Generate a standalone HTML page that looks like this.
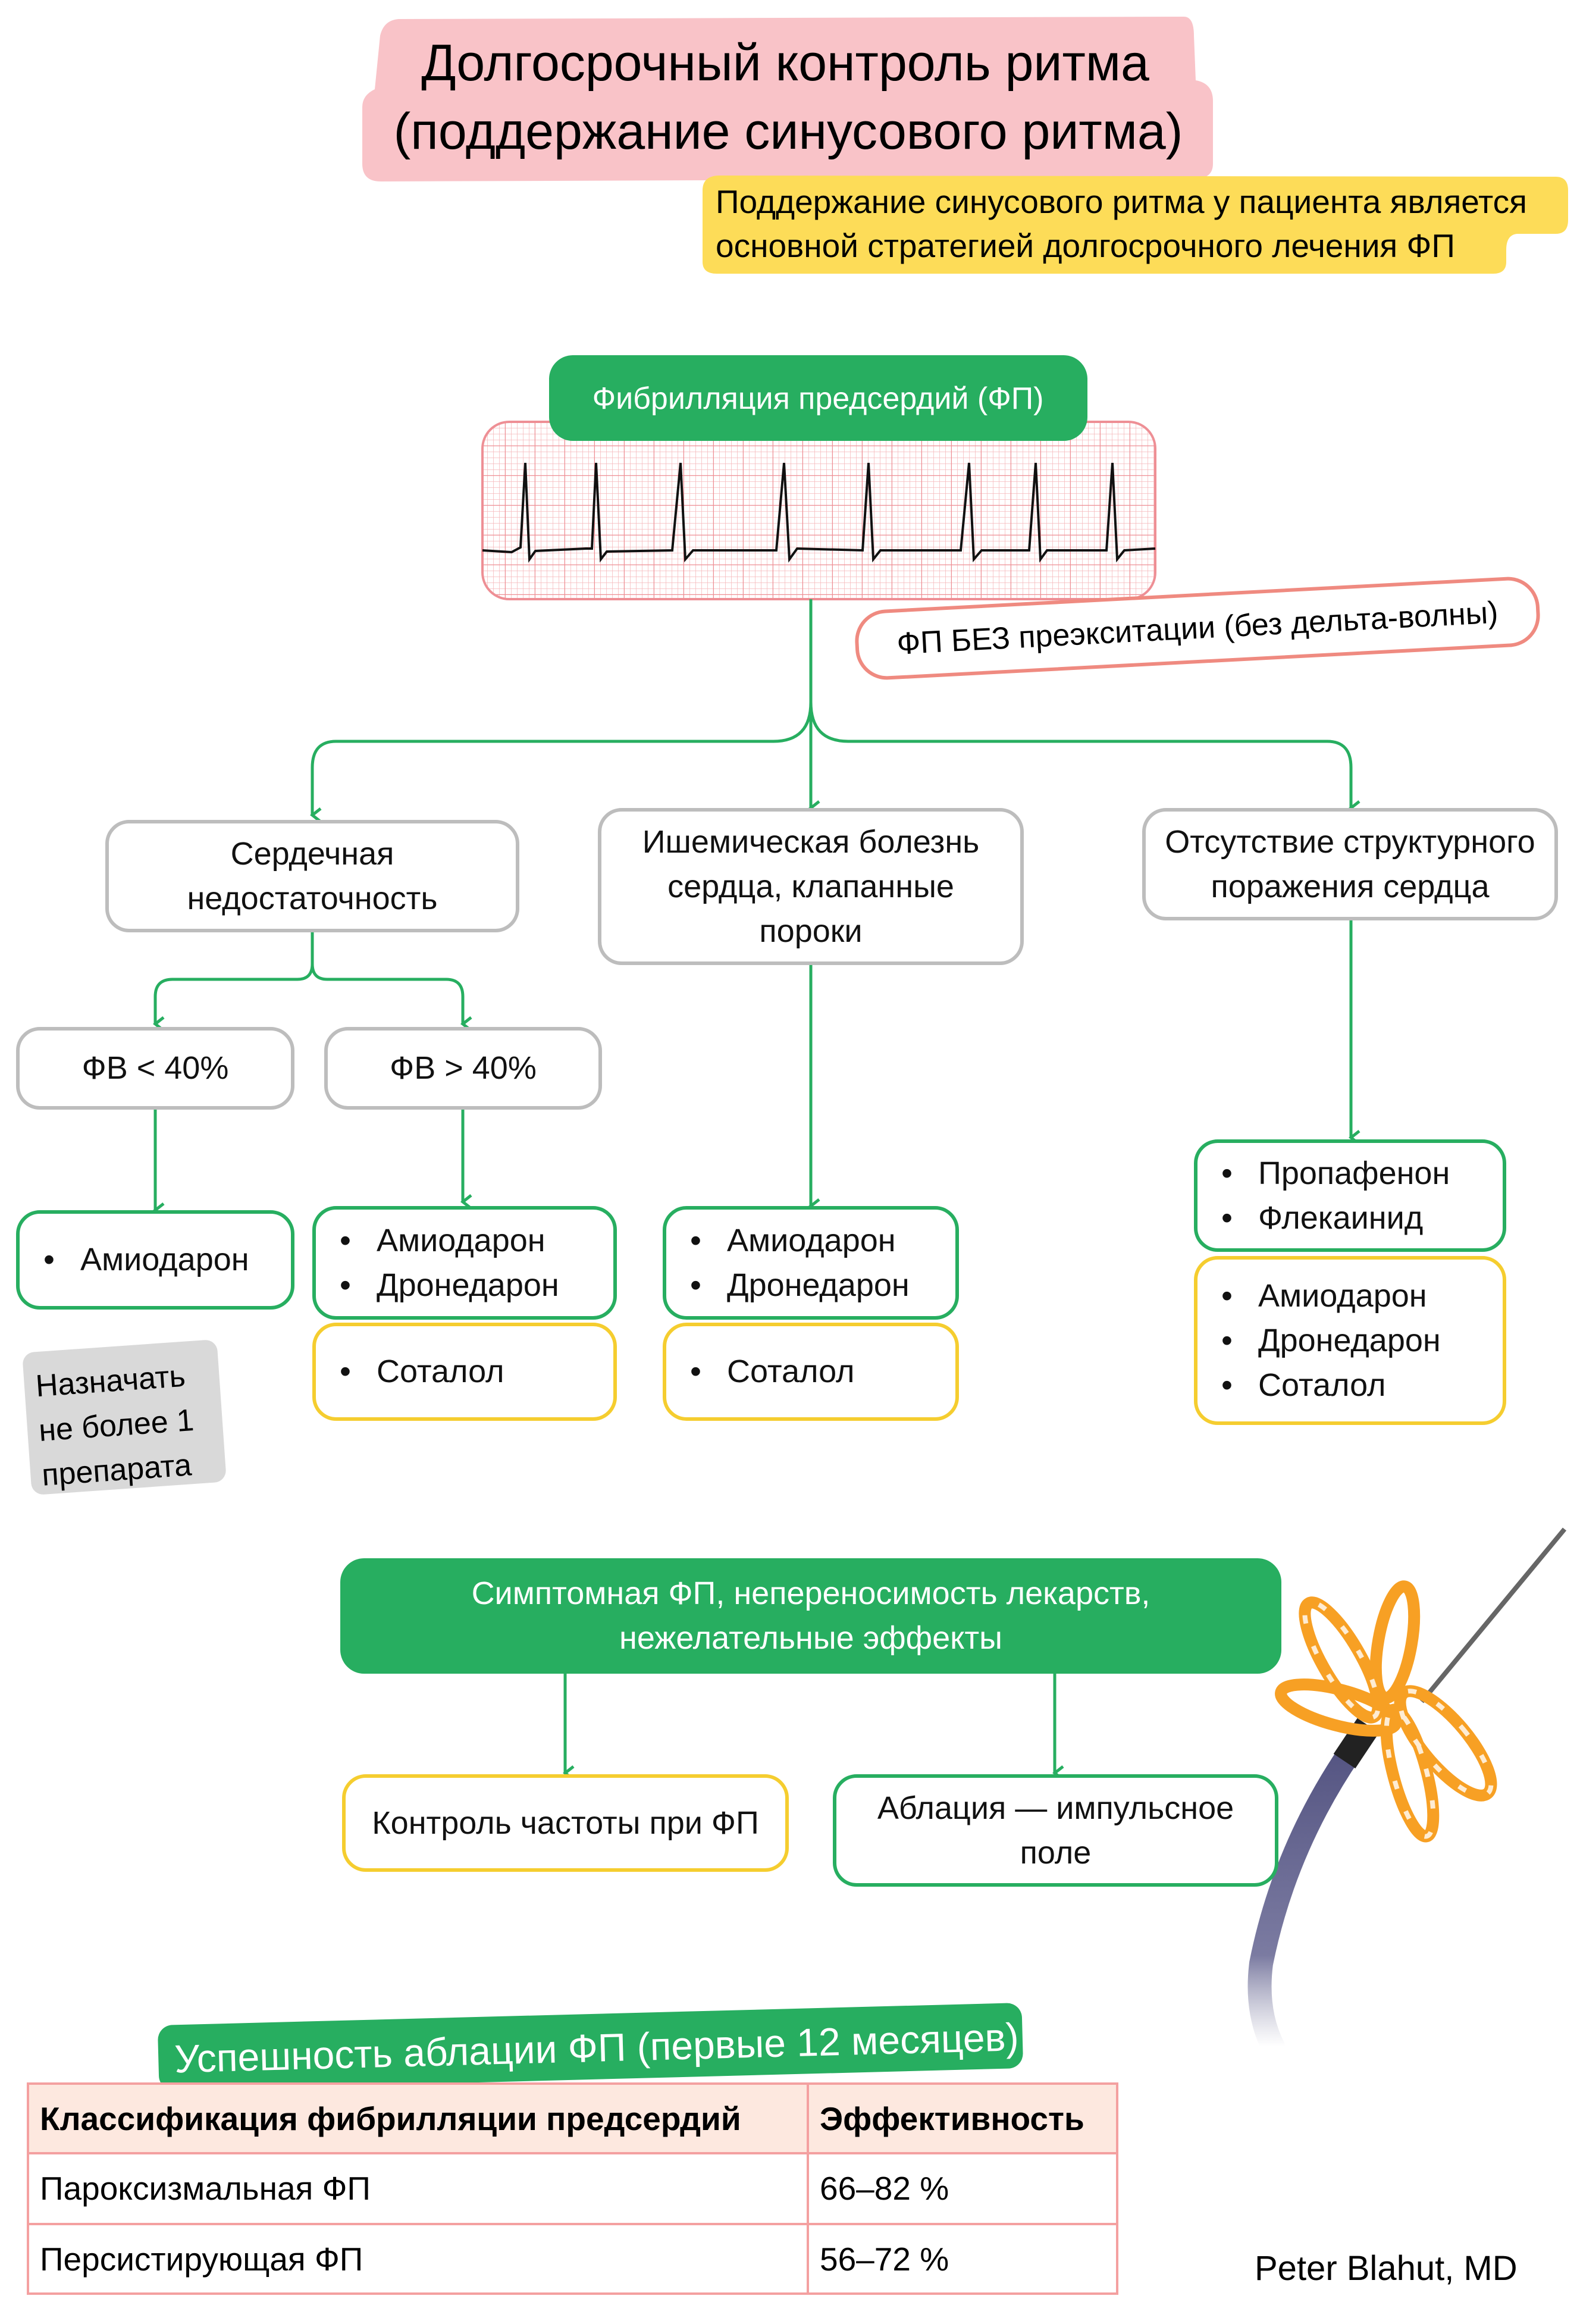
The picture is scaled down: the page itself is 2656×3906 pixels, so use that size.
<!DOCTYPE html>
<html><head><meta charset="utf-8"><style>
*{margin:0;padding:0;box-sizing:border-box}
body{width:2656px;height:3906px;background:#fff;position:relative;overflow:hidden;font-family:"Liberation Sans","DejaVu Sans",sans-serif;color:#111}
.b{position:absolute;display:flex;align-items:center;justify-content:center;text-align:center;border-radius:40px;background:#fff;font-size:54px;line-height:75px}
.gray{border:6px solid #bdbdbd}
.grn{border:6px solid #27ae60}
.yel{border:6px solid #f5cd2f}
.l{justify-content:flex-start;text-align:left;padding-left:40px}
ul{list-style:none}
li:before{content:"•";display:inline-block;width:62px;font-size:54px}
svg{position:absolute;left:0;top:0}
</style></head><body>
<svg width="2656" height="3906">
<defs>
<pattern id="sg" width="10" height="10" patternUnits="userSpaceOnUse"><path d="M10 0V10H0" fill="none" stroke="#f5b8bb" stroke-width="1.5"/></pattern>
<pattern id="lg" width="50" height="50" patternUnits="userSpaceOnUse"><path d="M50 0V50H0" fill="none" stroke="#ee8f95" stroke-width="2.5"/></pattern>
<clipPath id="ec"><rect x="811" y="709" width="1131" height="298" rx="45"/></clipPath>
<marker id="ar" markerWidth="26" markerHeight="26" refX="13" refY="22" orient="auto" markerUnits="userSpaceOnUse" viewBox="0 0 26 26"><path d="M2 8 L13 22 L24 8" fill="none" stroke="#27ae60" stroke-width="5"/></marker>
<linearGradient id="fade" x1="0" y1="0" x2="0" y2="1"><stop offset="0" stop-color="#4a4a7a" stop-opacity="0.95"/><stop offset="0.7" stop-color="#5a5a8a" stop-opacity="0.8"/><stop offset="1" stop-color="#8a8aa8" stop-opacity="0"/></linearGradient>
</defs>
<path d="M670 32 L1990 28 Q2007 28 2007 60 L2010 135 Q2039 140 2039 170 L2039 275 Q2039 300 2010 300 L640 305 Q609 305 609 275 L609 180 Q609 160 630 150 L639 60 Q645 34 670 32Z" fill="#f9c3c8"/>
<text x="1320" y="135" font-size="86" text-anchor="middle">Долгосрочный контроль ритма</text>
<text x="1325" y="250" font-size="86" text-anchor="middle">(поддержание синусового ритма)</text>
<path d="M1210 295 L2615 297 Q2636 297 2636 320 L2636 370 Q2636 393 2615 393 L2550 393 Q2532 395 2532 420 L2532 440 Q2532 460 2510 460 L1205 460 Q1181 460 1181 440 L1181 320 Q1181 295 1210 295Z" fill="#fddc58"/>
<text x="1203" y="358" font-size="55">Поддержание синусового ритма у пациента является</text>
<text x="1203" y="432" font-size="55">основной стратегией долгосрочного лечения ФП</text>
<rect x="811" y="709" width="1131" height="298" rx="45" fill="#fff"/>
<g clip-path="url(#ec)"><rect x="811" y="709" width="1131" height="298" fill="url(#sg)"/><rect x="811" y="709" width="1131" height="298" fill="url(#lg)"/></g>
<rect x="811" y="709" width="1131" height="298" rx="45" fill="none" stroke="#ee8f95" stroke-width="4"/>
<path d="M811 925 L860 928 L875 920 L883 778 L890 940 L900 926 L985 922 L995 922 L1002 778 L1010 940 L1020 927 L1130 925 L1144 778 L1152 940 L1165 925 L1305 925 L1318 778 L1327 940 L1340 922 L1450 925 L1460 778 L1468 940 L1480 925 L1615 925 L1629 778 L1637 940 L1650 925 L1730 925 L1741 778 L1749 940 L1760 925 L1860 925 L1870 778 L1878 940 L1890 925 L1942 922" fill="none" stroke="#111" stroke-width="4"/>
<rect x="923" y="597" width="905" height="144" rx="40" fill="#27ae60"/>
<text x="1375" y="687" font-size="52" fill="#fff" text-anchor="middle">Фибрилляция предсердий (ФП)</text>
<g transform="rotate(-3 2013 1056)"><rect x="1440" y="1000" width="1146" height="112" rx="50" fill="#fff" stroke="#ef8a80" stroke-width="6"/>
<text x="2013" y="1073" font-size="52" text-anchor="middle">ФП БЕЗ преэкситации (без дельта-волны)</text></g>
<g fill="none" stroke="#27ae60" stroke-width="5">
<path d="M1363 1007 V1358" marker-end="url(#ar)"/>
<path d="M1363 1180 Q1363 1246 1300 1246 H565 Q525 1246 525 1290 V1370" marker-end="url(#ar)"/>
<path d="M1363 1180 Q1363 1246 1426 1246 H2231 Q2271 1246 2271 1290 V1358" marker-end="url(#ar)"/>
<path d="M525 1567 V1620 Q525 1646 500 1646 H290 Q261 1646 261 1675 V1721" marker-end="url(#ar)"/>
<path d="M525 1620 Q525 1646 550 1646 H750 Q778 1646 778 1675 V1721" marker-end="url(#ar)"/>
<path d="M261 1865 V2034" marker-end="url(#ar)"/>
<path d="M778 1865 V2020" marker-end="url(#ar)"/>
<path d="M1363 1622 V2027" marker-end="url(#ar)"/>
<path d="M2271 1547 V1912" marker-end="url(#ar)"/>
<path d="M950 2813 V2980" marker-end="url(#ar)"/>
<path d="M1773 2813 V2980" marker-end="url(#ar)"/>
</g>
<path d="M2630 2570 L2390 2860" stroke="#666" stroke-width="8"/>
<path d="M2280 2930 Q2160 3100 2120 3300 Q2110 3380 2140 3440" fill="none" stroke="url(#fade)" stroke-width="40" stroke-linecap="round"/>
<path d="M2300 2900 L2260 2960" stroke="#222" stroke-width="44"/>
<g fill="none" stroke="#f7a024" stroke-width="20">
<ellipse cx="2255" cy="2790" rx="32" ry="110" transform="rotate(-30 2255 2790)"/>
<ellipse cx="2345" cy="2760" rx="28" ry="95" transform="rotate(10 2345 2760)"/>
<ellipse cx="2250" cy="2870" rx="100" ry="30" transform="rotate(15 2250 2870)"/>
<ellipse cx="2430" cy="2930" rx="38" ry="110" transform="rotate(-40 2430 2930)"/>
<ellipse cx="2370" cy="2980" rx="28" ry="110" transform="rotate(-15 2370 2980)"/>
</g>
<g fill="none" stroke="#fff" stroke-width="8" stroke-dasharray="14 40" opacity="0.8">
<ellipse cx="2255" cy="2790" rx="32" ry="110" transform="rotate(-30 2255 2790)"/>
<ellipse cx="2430" cy="2930" rx="38" ry="110" transform="rotate(-40 2430 2930)"/>
<ellipse cx="2370" cy="2980" rx="28" ry="110" transform="rotate(-15 2370 2980)"/>
</g>
<g transform="rotate(-1.5 993 3440)"><rect x="266" y="3385" width="1453" height="110" rx="25" fill="#27ae60"/>
<text x="293" y="3465" font-size="66" fill="#fff">Успешность аблации ФП (первые 12 месяцев)</text></g>
<rect x="47" y="3502" width="1831" height="117" fill="#fde8df"/>
<g stroke="#f4a0a0" stroke-width="4" fill="none">
<rect x="47" y="3502" width="1831" height="353"/>
<path d="M47 3619H1878M47 3738H1878M1358 3502V3855"/>
</g>
<g font-size="55">
<text x="67" y="3580" font-weight="bold">Классификация фибрилляции предсердий</text>
<text x="1378" y="3580" font-weight="bold">Эффективность</text>
<text x="67" y="3697">Пароксизмальная ФП</text>
<text x="1378" y="3697">66–82 %</text>
<text x="67" y="3816">Персистирующая ФП</text>
<text x="1378" y="3816">56–72 %</text>
<text x="2109" y="3832" font-size="58">Peter Blahut, MD</text>
</g>
<g transform="rotate(-4 209 2382)"><rect x="45" y="2262" width="328" height="240" rx="20" fill="#d9d9d9"/>
<text x="64" y="2337" font-size="52">Назначать</text><text x="64" y="2412" font-size="52">не более 1</text><text x="64" y="2487" font-size="52">препарата</text></g>
</svg>

<div class="b gray" style="left:177px;top:1378px;width:696px;height:189px">Сердечная<br>недостаточность</div>
<div class="b gray" style="left:1005px;top:1358px;width:716px;height:264px">Ишемическая болезнь<br>сердца, клапанные<br>пороки</div>
<div class="b gray" style="left:1920px;top:1358px;width:699px;height:189px">Отсутствие структурного<br>поражения сердца</div>
<div class="b gray" style="left:27px;top:1726px;width:468px;height:139px">ФВ &lt; 40%</div>
<div class="b gray" style="left:545px;top:1726px;width:467px;height:139px">ФВ &gt; 40%</div>
<div class="b grn l" style="left:27px;top:2034px;width:468px;height:167px"><ul><li>Амиодарон</li></ul></div>
<div class="b grn l" style="left:525px;top:2027px;width:512px;height:191px"><ul><li>Амиодарон</li><li>Дронедарон</li></ul></div>
<div class="b yel l" style="left:525px;top:2223px;width:512px;height:165px"><ul><li>Соталол</li></ul></div>
<div class="b grn l" style="left:1114px;top:2027px;width:498px;height:191px"><ul><li>Амиодарон</li><li>Дронедарон</li></ul></div>
<div class="b yel l" style="left:1114px;top:2223px;width:498px;height:165px"><ul><li>Соталол</li></ul></div>
<div class="b grn l" style="left:2007px;top:1915px;width:525px;height:189px"><ul><li>Пропафенон</li><li>Флекаинид</li></ul></div>
<div class="b yel l" style="left:2007px;top:2111px;width:525px;height:284px"><ul><li>Амиодарон</li><li>Дронедарон</li><li>Соталол</li></ul></div>
<div class="b" style="left:572px;top:2619px;width:1582px;height:194px;background:#27ae60;color:#fff">Симптомная ФП, непереносимость лекарств,<br>нежелательные эффекты</div>
<div class="b yel" style="left:575px;top:2982px;width:751px;height:164px">Контроль частоты при ФП</div>
<div class="b grn" style="left:1400px;top:2982px;width:749px;height:189px">Аблация — импульсное<br>поле</div>
</body></html>
